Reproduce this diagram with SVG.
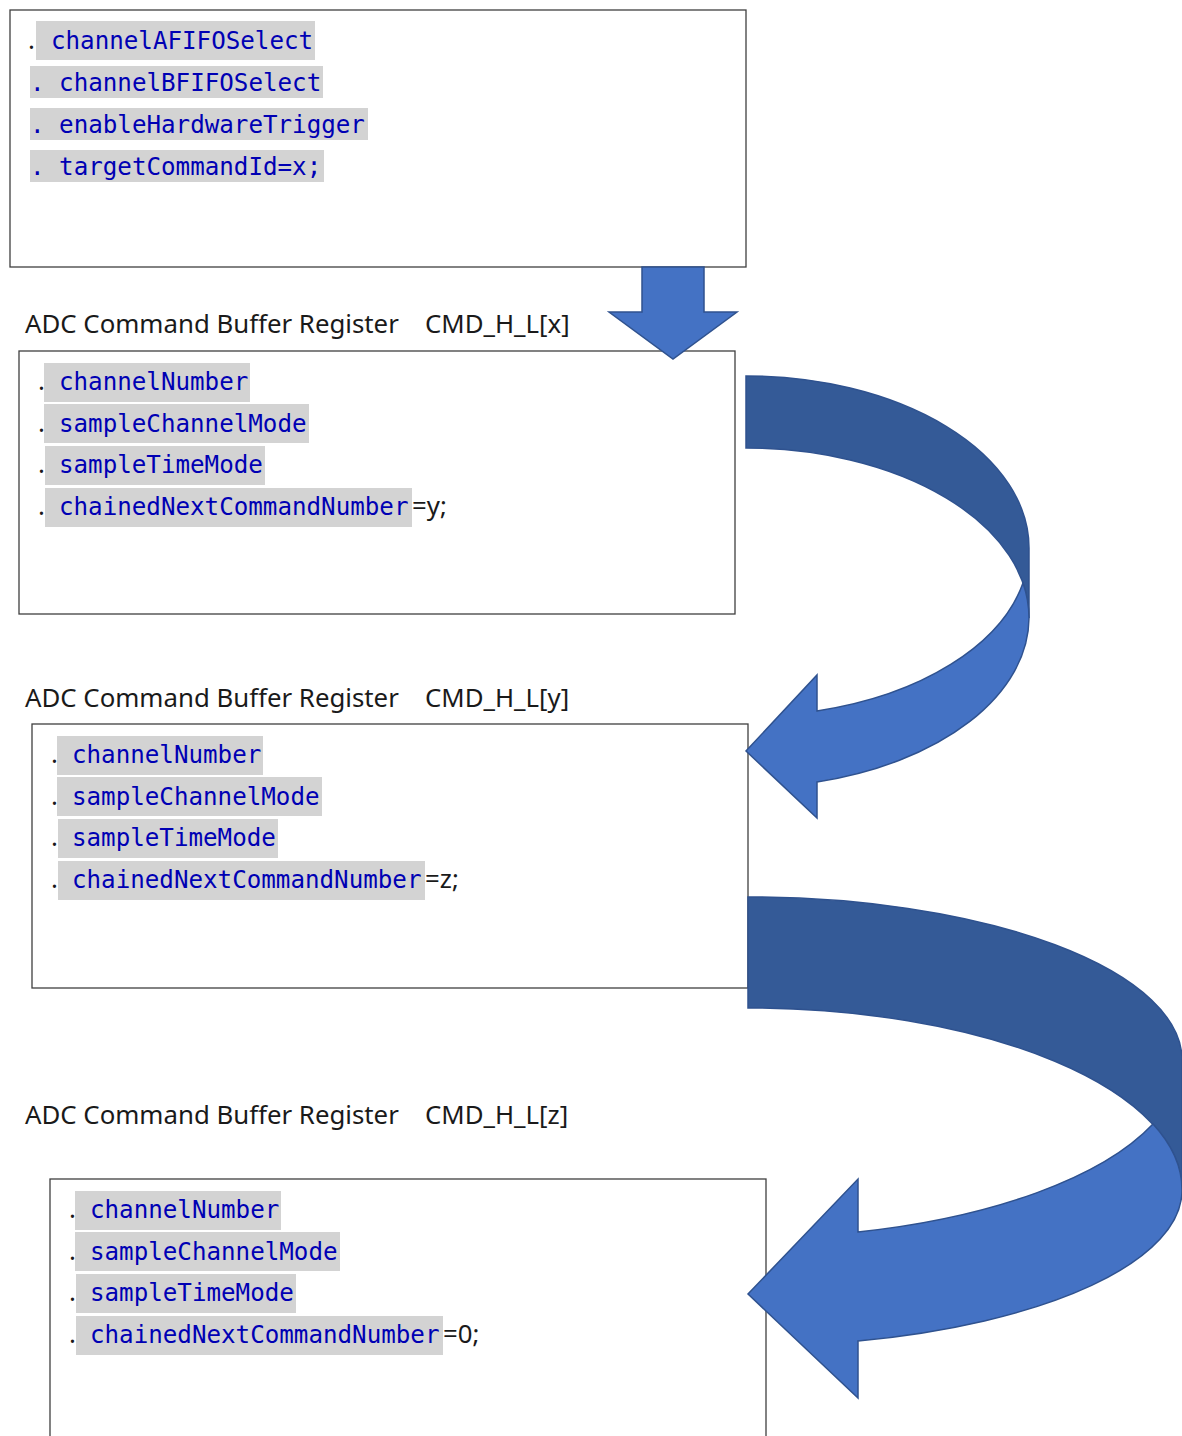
<svg xmlns="http://www.w3.org/2000/svg" width="1182" height="1436" viewBox="0 0 1182 1436">
<style>
.bg{fill:#ffffff}
.box{fill:#ffffff;stroke:#3f3f3f;stroke-width:1.3}
.hl{fill:#d3d3d3}
.code{font-family:"DejaVu Sans Mono","Liberation Mono",monospace;font-size:24.2px;fill:#0000b4}
.lbl{font-family:"Noto Sans","Liberation Sans",sans-serif;font-size:25.8px;fill:#1a1a1a}
.arL{fill:#4472c4;stroke:#2f528f;stroke-width:1.5;stroke-linejoin:miter}
.arD{fill:#345a97;stroke:#2f528f;stroke-width:1.5}
</style>
<rect class="bg" x="0" y="0" width="1182" height="1436"/>

<g id="box-top">
  <rect class="box" x="10" y="10" width="736" height="257"/>
  <text class="lbl" x="28" y="49">.</text>
  <rect class="hl" x="36" y="21" width="279" height="39"/>
  <text class="code" x="51" y="49">channelAFIFOSelect</text>
  <rect class="hl" x="30" y="66" width="293" height="32"/>
  <text class="code" x="30" y="91">. channelBFIFOSelect</text>
  <rect class="hl" x="30" y="108" width="338" height="32"/>
  <text class="code" x="30" y="133">. enableHardwareTrigger</text>
  <rect class="hl" x="30" y="150" width="294" height="32"/>
  <text class="code" x="30" y="175">. targetCommandId=x;</text>
</g>

<g id="label-x">
  <text class="lbl" x="25" y="333">ADC Command Buffer Register<tspan x="425">CMD_H_L[x]</tspan></text>
</g>

<g id="box-x">
  <rect class="box" x="19" y="351" width="716" height="263"/>
  <text class="lbl" x="38" y="390">.</text>
  <rect class="hl" x="44" y="363" width="206" height="39"/>
  <text class="code" x="59" y="390">channelNumber</text>
  <text class="lbl" x="38" y="432">.</text>
  <rect class="hl" x="44" y="404" width="265" height="39"/>
  <text class="code" x="59" y="432">sampleChannelMode</text>
  <text class="lbl" x="38" y="473">.</text>
  <rect class="hl" x="45" y="446" width="220" height="39"/>
  <text class="code" x="59" y="473">sampleTimeMode</text>
  <text class="lbl" x="38" y="515">.</text>
  <rect class="hl" x="45" y="488" width="367" height="39"/>
  <text class="code" x="59" y="515">chainedNextCommandNumber</text>
  <text class="lbl" x="412" y="515">=y;</text>
</g>

<g id="label-y">
  <text class="lbl" x="25" y="707">ADC Command Buffer Register<tspan x="425">CMD_H_L[y]</tspan></text>
</g>

<g id="box-y" transform="translate(13,373)">
  <rect class="box" x="19" y="351" width="716" height="264"/>
  <text class="lbl" x="38" y="390">.</text>
  <rect class="hl" x="44" y="363" width="206" height="39"/>
  <text class="code" x="59" y="390">channelNumber</text>
  <text class="lbl" x="38" y="432">.</text>
  <rect class="hl" x="44" y="404" width="265" height="39"/>
  <text class="code" x="59" y="432">sampleChannelMode</text>
  <text class="lbl" x="38" y="473">.</text>
  <rect class="hl" x="45" y="446" width="220" height="39"/>
  <text class="code" x="59" y="473">sampleTimeMode</text>
  <text class="lbl" x="38" y="515">.</text>
  <rect class="hl" x="45" y="488" width="367" height="39"/>
  <text class="code" x="59" y="515">chainedNextCommandNumber</text>
  <text class="lbl" x="412" y="515">=z;</text>
</g>

<g id="label-z">
  <text class="lbl" x="25" y="1124">ADC Command Buffer Register<tspan x="425">CMD_H_L[z]</tspan></text>
</g>

<g id="box-z" transform="translate(31,828)">
  <rect class="box" x="19" y="351" width="716" height="300"/>
  <text class="lbl" x="38" y="390">.</text>
  <rect class="hl" x="44" y="363" width="206" height="39"/>
  <text class="code" x="59" y="390">channelNumber</text>
  <text class="lbl" x="38" y="432">.</text>
  <rect class="hl" x="44" y="404" width="265" height="39"/>
  <text class="code" x="59" y="432">sampleChannelMode</text>
  <text class="lbl" x="38" y="473">.</text>
  <rect class="hl" x="45" y="446" width="220" height="39"/>
  <text class="code" x="59" y="473">sampleTimeMode</text>
  <text class="lbl" x="38" y="515">.</text>
  <rect class="hl" x="45" y="488" width="367" height="39"/>
  <text class="code" x="59" y="515">chainedNextCommandNumber</text>
  <text class="lbl" x="412" y="515">=0;</text>
</g>

<g id="connectors">
  <path class="arL" d="M642,267 L704,267 L704,312 L737,312 L673,359 L609,312 L642,312 Z"/>
  <path class="arD" d="M746,376 A283,172 0 0 1 1029,548 L1029,618 A283,170 0 0 0 746,448 Z"/>
  <path class="arL" d="M1029,618 A283,170 0 0 1 817,782 L817,818 L746,751 L817,675 L817,711 A283,168 0 0 0 1023,583 A283,170 0 0 1 1029,618 Z"/>
  <path class="arD" d="M748,897 A434,163 0 0 1 1182,1060 L1182,1190 A434,182 0 0 0 748,1008 Z"/>
  <path class="arL" d="M1182,1190 A434,156 0 0 1 858,1341 L858,1398 L748,1294 L858,1179 L858,1232 A434,178 0 0 0 1153,1124 A434,182 0 0 1 1182,1190 Z"/>
</g>
</svg>
